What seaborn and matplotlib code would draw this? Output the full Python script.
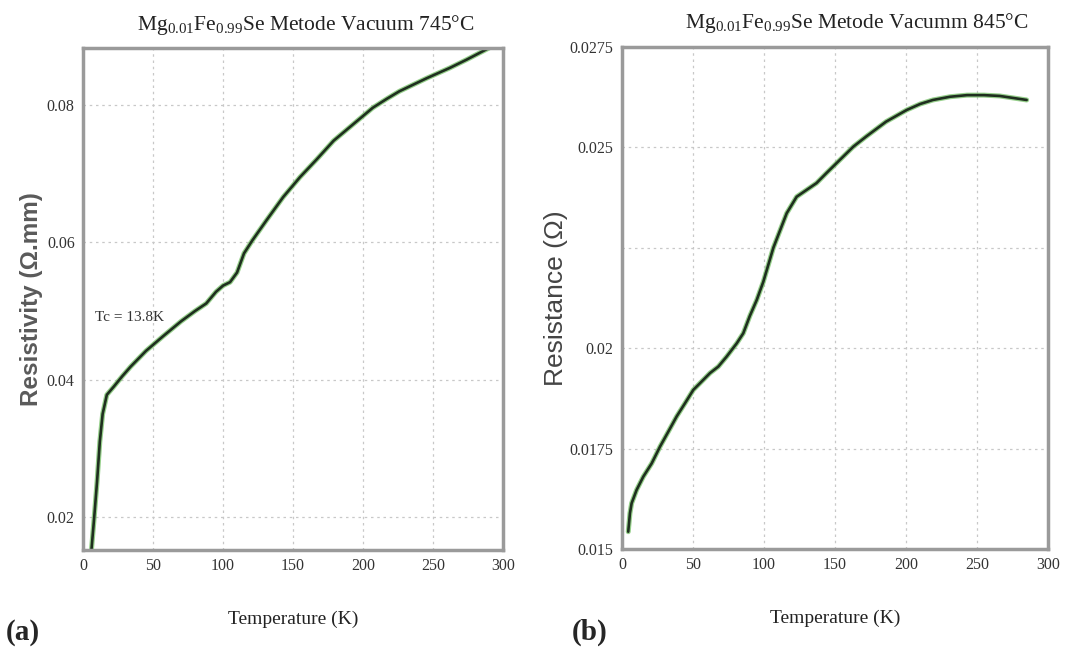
import numpy as np
import pandas as pd
import matplotlib
matplotlib.use("Agg")
import matplotlib.pyplot as plt
import seaborn as sns

# ---- data ----
temp_a = [6, 8, 10, 12, 14, 17, 22, 28, 34, 45, 57, 70, 80, 88, 95, 100, 105,
          110, 115, 121, 131, 143, 155, 167, 179, 193, 207, 217, 226, 245.5,
          262, 274, 290]
rho_a = [0.0152, 0.0200, 0.0251, 0.0310, 0.0350, 0.0378, 0.0390, 0.0405, 0.0419,
         0.0442, 0.0463, 0.0485, 0.0500, 0.0511, 0.0528, 0.0537, 0.0542, 0.0556,
         0.0584, 0.0603, 0.0632, 0.0666, 0.0695, 0.0721, 0.0748, 0.0772, 0.0796,
         0.0809, 0.0820, 0.0839, 0.0854, 0.0866, 0.0883]

temp_b = [4.4, 5.6, 6.8, 10.3, 15, 20.9, 26.8, 32.6, 38.5, 44.4, 50.2, 55, 62,
          67.8, 73.7, 80.8, 85.4, 90, 94.9, 99.5, 106.6, 116, 123, 130, 137, 144,
          153.5, 163, 172, 186, 200.5, 210, 219, 231, 243, 255, 266, 285]
res_b = [0.01543, 0.01589, 0.01614, 0.01647, 0.01680, 0.01713, 0.01755, 0.01792,
         0.01830, 0.01863, 0.01896, 0.01913, 0.01938, 0.01954, 0.01979, 0.02012,
         0.02037, 0.02080, 0.02120, 0.02165, 0.02250, 0.02336, 0.02377, 0.02394,
         0.02411, 0.02436, 0.02469, 0.02502, 0.02527, 0.02564, 0.02593, 0.02608,
         0.02618, 0.02626, 0.02630, 0.02630, 0.02628, 0.02618]

x_ticks = [0, 50, 100, 150, 200, 250, 300]
y_ticks_a = [0.02, 0.04, 0.06, 0.08]
y_tick_labels_a = ["0.02", "0.04", "0.06", "0.08"]
y_ticks_b = [0.015, 0.0175, 0.02, 0.0225, 0.025, 0.0275]
y_tick_labels_b = ["0.015", "0.0175", "0.02", "", "0.025", "0.0275"]

title_a = r"Mg$_{0.01}$Fe$_{0.99}$Se Metode Vacuum 745°C"
title_b = r"Mg$_{0.01}$Fe$_{0.99}$Se Metode Vacumm 845°C"
xlabel = "Temperature (K)"
ylabel_a = "Resistivity (Ω.mm)"
ylabel_b = "Resistance (Ω)"
annot_a = "Tc = 13.8K"

df_a = pd.DataFrame({"T": temp_a, "v": rho_a})
df_b = pd.DataFrame({"T": temp_b, "v": res_b})

sns.set_style("whitegrid")
plt.rcParams["font.family"] = ["Liberation Serif", "DejaVu Serif"]
plt.rcParams["mathtext.fontset"] = "custom"
plt.rcParams["mathtext.rm"] = "Liberation Serif"
plt.rcParams["mathtext.it"] = "Liberation Serif:italic"
plt.rcParams["mathtext.bf"] = "Liberation Serif:bold"

fig = plt.figure(figsize=(10.7, 6.53), dpi=100)
ax_a = fig.add_axes([0.0776, 0.1577, 0.3925, 0.7688])
ax_b = fig.add_axes([0.5813, 0.1593, 0.3981, 0.7688])

spine_col = "#9a9a9a"
tick_col = "#333333"

def style(ax, yt, ytl, ylim):
    ax.set_xlim(0, 300)
    ax.set_ylim(*ylim)
    ax.set_xticks(x_ticks)
    ax.set_xticklabels([str(t) for t in x_ticks])
    ax.set_yticks(yt)
    ax.set_yticklabels(ytl)
    ax.grid(True, color="#c8c8c8", linestyle=(0, (2, 3)), linewidth=0.9)
    for s in ax.spines.values():
        s.set_color(spine_col)
        s.set_linewidth(2.5)
        s.set_visible(True)
    ax.tick_params(direction="in", length=4, width=0.8, colors=spine_col,
                   labelcolor=tick_col, labelsize=11.5, pad=6)
    ax.set_xlabel(xlabel, fontsize=14, color="#222222", labelpad=26)

# green halo + dark line
for ax, df in ((ax_a, df_a), (ax_b, df_b)):
    sns.lineplot(data=df, x="T", y="v", ax=ax, color="#7cc46e", linewidth=3.6,
                 alpha=0.8, sort=False, estimator=None,
                 solid_joinstyle="round", solid_capstyle="round")
    sns.lineplot(data=df, x="T", y="v", ax=ax, color="#1f2f1f", linewidth=1.9,
                 sort=False, estimator=None,
                 solid_joinstyle="round", solid_capstyle="round")

style(ax_a, y_ticks_a, y_tick_labels_a, (0.0152, 0.0883))
style(ax_b, y_ticks_b, y_tick_labels_b, (0.015, 0.0275))

ax_a.set_ylabel(ylabel_a, fontsize=17.5, family=["Liberation Sans", "DejaVu Sans"],
                fontweight="bold", color="#5a5a5a", labelpad=3)
ax_b.set_ylabel(ylabel_b, fontsize=19, family=["Liberation Sans", "DejaVu Sans"],
                color="#444444", labelpad=1)

ax_a.text(8.6, 0.0490, annot_a, fontsize=11, color="#333333", va="center", ha="left")

fig.text(0.286, 0.962, title_a, fontsize=15.5, color="#222222", ha="center", va="center")
fig.text(0.801, 0.965, title_b, fontsize=15.5, color="#222222", ha="center", va="center")

fig.text(0.005, 0.031, "(a)", fontsize=21, fontweight="bold", ha="left", va="center")
fig.text(0.534, 0.031, "(b)", fontsize=21, fontweight="bold", ha="left", va="center")

fig.savefig("out.png", dpi=100, facecolor="white")
